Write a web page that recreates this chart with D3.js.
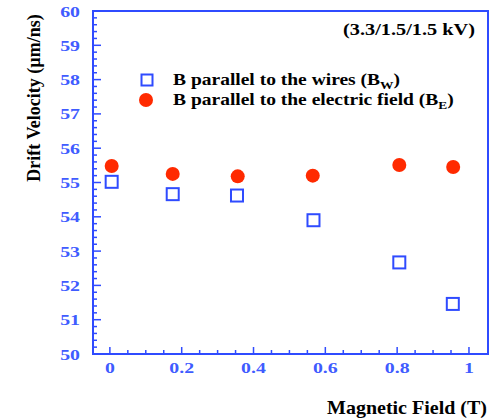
<!DOCTYPE html>
<html>
<head>
<meta charset="utf-8">
<script src="https://cdn.jsdelivr.net/npm/d3@7"></script>
<style>
  body { margin: 0; background: #fff; }
  text { font-family: "Liberation Serif", "Times New Roman", serif; font-weight: bold; }
</style>
</head>
<body>
<div class="chart"></div>
<script>
// field values (T)
const fieldW = [0.005, 0.175, 0.354, 0.567, 0.806, 0.955];
const fieldE = [0.005, 0.175, 0.356, 0.565, 0.806, 0.956];
// drift velocities (um/ns)
const velW = [55.02, 54.66, 54.62, 53.9, 52.67, 51.46];
const velE = [55.48, 55.25, 55.18, 55.2, 55.51, 55.45];
const xTicks = [0, 0.2, 0.4, 0.6, 0.8, 1];
const yTicks = [50, 51, 52, 53, 54, 55, 56, 57, 58, 59, 60];

const blue = "#2f4bff";
const labelBlue = "#3f5cff";
const red = "#ff2a00";

const margin = { top: 11, right: 5, bottom: 66, left: 93 };
const width = 493 - margin.left - margin.right;
const height = 420 - margin.top - margin.bottom;

const svg = d3.select(".chart").append("svg")
  .attr("width", 493)
  .attr("height", 420);

const g = svg.append("g")
  .attr("transform", "translate(" + margin.left + "," + margin.top + ")");

const x = d3.scaleLinear().domain([-0.047, 1.053]).range([0, width]);
const y = d3.scaleLinear().domain([50, 60]).range([height, 0]);

// frame
g.append("rect")
  .attr("width", width).attr("height", height)
  .attr("fill", "none").attr("stroke", blue).attr("stroke-width", 2);

// x ticks (inward)
const xMinor = d3.range(0, 1.0001, 0.05);
g.selectAll(".xt").data(xMinor).enter().append("line")
  .attr("x1", d => x(d)).attr("x2", d => x(d))
  .attr("y1", height)
  .attr("y2", (d, i) => height - (i % 4 === 0 ? 7 : 4))
  .attr("stroke", blue).attr("stroke-width", 1.5);

g.selectAll(".xl").data(xTicks).enter().append("text")
  .attr("transform", d => "translate(" + x(d) + "," + (height + 19) + ") scale(1.28,1)")
  .attr("text-anchor", "middle")
  .attr("fill", labelBlue).style("font-size", "15.5px")
  .text(d => d);

// y ticks (inward)
const yMinor = d3.range(50, 60.0001, 0.2);
g.selectAll(".yt").data(yMinor).enter().append("line")
  .attr("y1", d => y(d)).attr("y2", d => y(d))
  .attr("x1", 0)
  .attr("x2", (d, i) => i % 5 === 0 ? 8 : 4)
  .attr("stroke", blue).attr("stroke-width", 1.5);

g.selectAll(".yl").data(yTicks).enter().append("text")
  .attr("transform", d => "translate(-13," + (y(d) + 5.5) + ") scale(1.28,1)")
  .attr("text-anchor", "end")
  .attr("fill", labelBlue).style("font-size", "15.5px")
  .text(d => d);

// axis titles
svg.append("text")
  .attr("x", 487).attr("y", 414)
  .attr("text-anchor", "end")
  .attr("textLength", 160).attr("lengthAdjust", "spacingAndGlyphs")
  .style("font-size", "19.5px")
  .text("Magnetic Field (T)");

svg.append("text")
  .attr("transform", "translate(40,98) rotate(-90)")
  .attr("text-anchor", "middle")
  .style("font-size", "18px")
  .text("Drift Velocity (\u00b5m/ns)");

// data
const dW = fieldW.map((f, i) => ({ f: f, v: velW[i] }));
const dE = fieldE.map((f, i) => ({ f: f, v: velE[i] }));

g.selectAll(".ptE").data(dE).enter().append("circle")
  .attr("cx", d => x(d.f)).attr("cy", d => y(d.v))
  .attr("r", 7).attr("fill", red);

g.selectAll(".ptW").data(dW).enter().append("rect")
  .attr("x", d => x(d.f) - 6).attr("y", d => y(d.v) - 6)
  .attr("width", 12).attr("height", 12)
  .attr("fill", "none").attr("stroke", blue).attr("stroke-width", 2);

// annotation
svg.append("text")
  .attr("transform", "translate(475,35) scale(1.27,1)")
  .attr("text-anchor", "end")
  .style("font-size", "16px")
  .text("(3.3/1.5/1.5 kV)");

// legend
const legend = [
  { label: "B parallel to the wires (B", sub: "W", type: "square" },
  { label: "B parallel to the electric field (B", sub: "E", type: "circle" },
];
const legG = svg.selectAll(".legend").data(legend).enter().append("g")
  .attr("class", "legend")
  .attr("transform", (d, i) => "translate(147," + (80 + i * 20) + ")");

legG.filter(d => d.type === "square").append("rect")
  .attr("x", -5.5).attr("y", -5.5).attr("width", 11).attr("height", 11)
  .attr("fill", "none").attr("stroke", blue).attr("stroke-width", 2);
legG.filter(d => d.type === "circle").append("circle")
  .attr("cx", -1).attr("r", 7).attr("fill", red);

const lt = legG.append("text")
  .attr("transform", "translate(26,5) scale(1.22,1)")
  .style("font-size", "16px");
lt.append("tspan").text(d => d.label);
lt.append("tspan").attr("dy", 4).style("font-size", "11px").text(d => d.sub);
lt.append("tspan").attr("dy", -4).text(")");
</script>
</body>
</html>
